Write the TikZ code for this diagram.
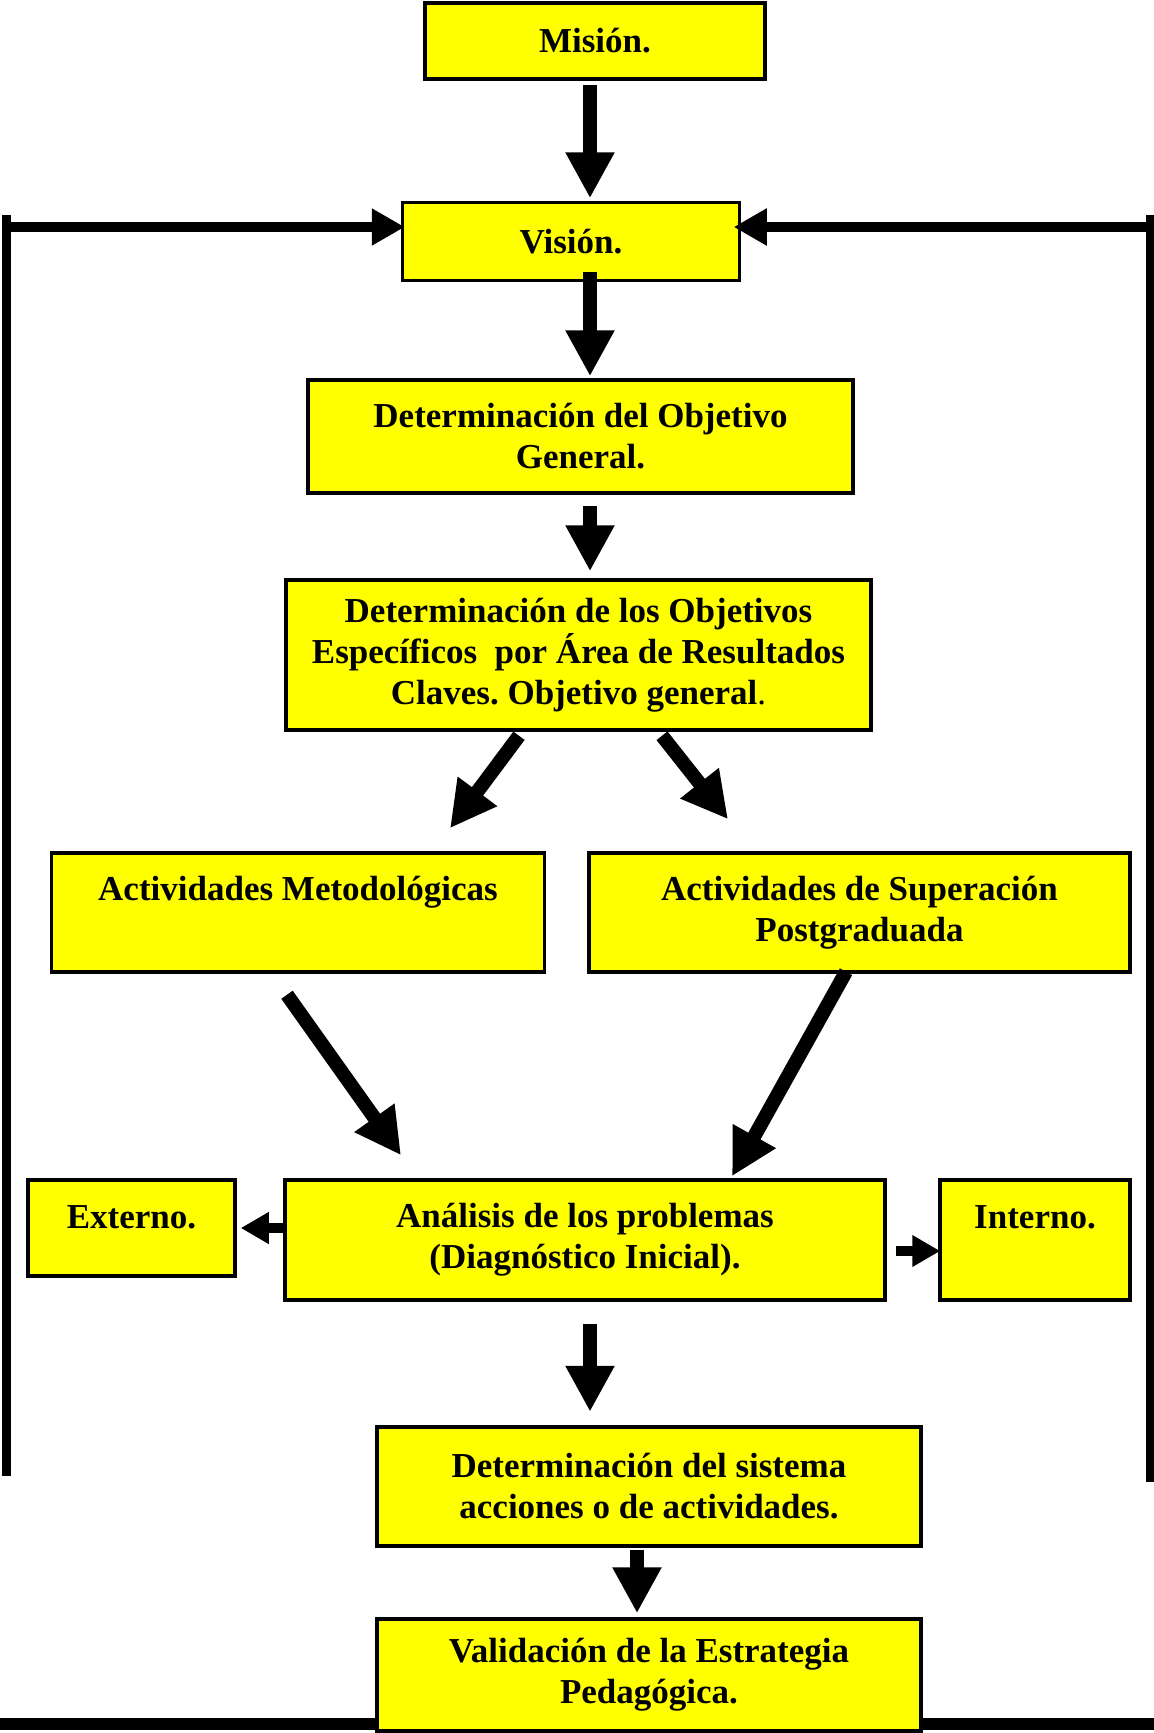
\documentclass[tikz,border=0pt]{standalone}
\usepackage{fontspec}
\setmainfont{Liberation Serif}
\usetikzlibrary{arrows.meta,calc}
\definecolor{boxyellow}{HTML}{FFFF00}
\begin{document}
\begin{tikzpicture}[x=1pt,y=-1pt,
  box/.style={draw=black,line width=3.5pt,fill=boxyellow,align=center,
    font=\fontsize{35}{41}\selectfont\bfseries\frenchspacing,inner sep=0pt},
  bigarrow/.style={line width=14pt,-{Triangle[width=46pt,length=46pt]}},
  smallarrow/.style={line width=10pt,-{Triangle[width=30pt,length=28pt]}},
  sidearrow/.style={line width=10pt,-{Triangle[width=35pt,length=33pt]}},
  sideline/.style={line width=9pt},
  bottomline/.style={line width=12pt}]
\useasboundingbox (0,0) rectangle (1154,1733);
% boxes
\node[box,minimum width=340pt,minimum height=76pt] (mision) at (595,41) {Misión.};
\node[box,minimum width=337pt,minimum height=78pt] (vision) at (571,241.5) {Visión.};
\node[box,minimum width=545pt,minimum height=113pt] (objgen) at (580.5,436.5) {Determinación del Objetivo\\General.};
\node[box,minimum width=585pt,minimum height=150pt] (objesp) at (578.5,655) {Determinación de los Objetivos\\Específicos\ \ por Área de Resultados\\Claves. Objetivo general{\mdseries .}};
\node[box,minimum width=493pt,minimum height=119pt] (metod) at (298,912.5) {Actividades Metodológicas\\\phantom{Postgraduada}};
\node[box,minimum width=541pt,minimum height=119pt] (super) at (859.5,912.5) {Actividades de Superación\\Postgraduada};
\node[box,minimum width=207pt,minimum height=96pt,text height=30pt,text depth=30pt] (externo) at (131.5,1228) {Externo.};
\node[box,minimum width=600pt,minimum height=120pt] (analisis) at (585,1240) {Análisis de los problemas\\(Diagnóstico Inicial).};
\node[box,minimum width=190pt,minimum height=120pt,text height=30pt,text depth=54pt] (interno) at (1035,1240) {Interno.};
\node[box,minimum width=544pt,minimum height=119pt] (sistema) at (649,1486.5) {Determinación del sistema\\acciones o de actividades.};
\node[box,minimum width=544pt,minimum height=112pt] (valid) at (649,1675) {Validación de la Estrategia\\Pedagógica.};
% feedback lines
\coordinate (lb) at (6,1476);
\coordinate (lt) at (6,215);
\coordinate (lh) at (2,227);
\coordinate (rb) at (1150,1482);
\coordinate (rt) at (1150,215);
\coordinate (rh) at (1154,227);
\coordinate (bl) at (0,1724);
\coordinate (br) at (1154,1724);
\draw[sideline] (lb) -- (lt);
\draw[sideline] (rb) -- (rt);
\draw[sidearrow] (lh) -- ([xshift=4pt,yshift=14.5pt]vision.west);
\draw[sidearrow] (rh) -- ([xshift=-7.5pt,yshift=14.5pt]vision.east);
\draw[bottomline] (bl) -- ([yshift=-49pt]valid.west);
\draw[bottomline] ([yshift=-49pt]valid.east) -- (br);
% arrows
\draw[bigarrow] ([xshift=-5pt,yshift=-4pt]mision.south) -- ([xshift=19pt,yshift=2.5pt]vision.north);
\draw[bigarrow] ([xshift=19pt,yshift=10.5pt]vision.south) -- ([xshift=9.5pt,yshift=2pt]objgen.north);
\draw[bigarrow] ([xshift=9.5pt,yshift=-11pt]objgen.south) -- ([xshift=11.5pt,yshift=7pt]objesp.north);
\draw[bigarrow] ([xshift=-59.5pt,yshift=-4pt]objesp.south) -- ([xshift=152pt,yshift=23pt]metod.north);
\draw[bigarrow] ([xshift=83.5pt,yshift=-4pt]objesp.south) -- ([xshift=-131.5pt,yshift=32pt]super.north);
\draw[bigarrow] ([xshift=-11pt,yshift=-21pt]metod.south) -- ([xshift=-184pt,yshift=23pt]analisis.north);
\draw[bigarrow] ([xshift=-13.5pt,yshift=2pt]super.south) -- ([xshift=147pt,yshift=2pt]analisis.north);
\draw[smallarrow] ([xshift=2pt,yshift=12pt]analisis.west) -- ([xshift=4pt]externo.east);
\draw[smallarrow] ([xshift=9pt,yshift=-11pt]analisis.east) -- ([xshift=2pt,yshift=-11pt]interno.west);
\draw[bigarrow] ([xshift=5pt,yshift=-22pt]analisis.south) -- ([xshift=-59pt,yshift=13.5pt]sistema.north);
\draw[bigarrow] ([xshift=-12pt,yshift=-2pt]sistema.south) -- ([xshift=-12pt,yshift=4pt]valid.north);
\end{tikzpicture}
\end{document}
